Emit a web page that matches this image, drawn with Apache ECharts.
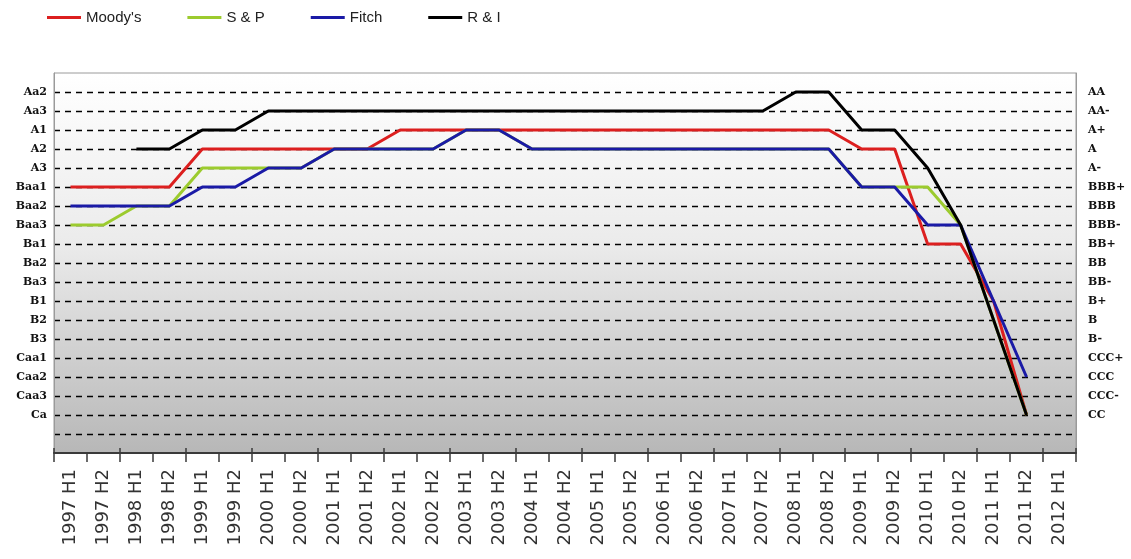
<!DOCTYPE html>
<html>
<head>
<meta charset="utf-8">
<script src="https://cdn.jsdelivr.net/npm/echarts@6/dist/echarts.min.js"></script>
<style>
  html, body { margin: 0; padding: 0; background: #ffffff; }
  #chart { width: 1131px; height: 559px; }
</style>
</head>
<body>
<div id="chart"></div>
<script>
// ---- Data ----
const categories = [
  '1997 H1','1997 H2','1998 H1','1998 H2','1999 H1','1999 H2','2000 H1','2000 H2',
  '2001 H1','2001 H2','2002 H1','2002 H2','2003 H1','2003 H2','2004 H1','2004 H2',
  '2005 H1','2005 H2','2006 H1','2006 H2','2007 H1','2007 H2','2008 H1','2008 H2',
  '2009 H1','2009 H2','2010 H1','2010 H2','2011 H1','2011 H2','2012 H1'
];
// rating level: 19 = Aa2 / AA ... 2 = Ca / CC
const moodys = [14,14,14,14,16,16,16,16,16,16,17,17,17,17,17,17,17,17,17,17,17,17,17,17,16,16,11,11,8,2,null];
const sp     = [12,12,13,13,15,15,15,15,16,16,16,16,17,17,16,16,16,16,16,16,16,16,16,16,14,14,14,12,7,2,null];
const fitch  = [13,13,13,13,14,14,15,15,16,16,16,16,17,17,16,16,16,16,16,16,16,16,16,16,14,14,12,12,8,4,null];
const ri     = [null,null,16,16,17,17,18,18,18,18,18,18,18,18,18,18,18,18,18,18,18,18,19,19,17,17,15,12,7,2,null];

// tick labels, from top level (19) to bottom level (2)
const leftLabels  = ['Aa2','Aa3','A1','A2','A3','Baa1','Baa2','Baa3','Ba1','Ba2','Ba3','B1','B2','B3','Caa1','Caa2','Caa3','Ca'];
const rightLabels = ['AA','AA-','A+','A','A-','BBB+','BBB','BBB-','BB+','BB','BB-','B+','B','B-','CCC+','CCC','CCC-','CC'];
const topLevel = 19;

const seriesNames = ["Moody's", 'S & P', 'Fitch', 'R & I'];
const seriesColors = ['#dc1f1f', '#9ccb2e', '#1a1aa6', '#000000'];

function labelFor(arr) {
  return function (v) {
    const i = topLevel - v;
    return (i >= 0 && i < arr.length) ? arr[i] : '';
  };
}

const chart = echarts.init(document.getElementById('chart'), null, { renderer: 'canvas' });

const gridRect = { left: 54, right: 55, top: 73, bottom: 106 };

const option = {
  animation: false,
  backgroundColor: '#ffffff',
  legend: {
    left: 42,
    top: 5,
    icon: 'rect',
    itemWidth: 34,
    itemHeight: 3,
    itemGap: 46,
    textStyle: { fontFamily: 'Liberation Sans, Arial, sans-serif', fontSize: 15, color: '#222' },
    data: seriesNames
  },
  grid: [
    Object.assign({
      show: true,
      borderColor: '#9a9a9a',
      borderWidth: 1,
      backgroundColor: new echarts.graphic.LinearGradient(0, 0, 0, 1, [
        { offset: 0, color: '#ffffff' },
        { offset: 0.45, color: '#ebebeb' },
        { offset: 1, color: '#b7b7b7' }
      ])
    }, gridRect),
    Object.assign({ show: false }, gridRect)
  ],
  xAxis: [
    {
      type: 'category',
      gridIndex: 0,
      data: categories,
      boundaryGap: true,
      axisLine: { show: true, lineStyle: { color: '#3a3a3a', width: 2 } },
      axisTick: { show: true, length: 9, lineStyle: { color: '#3a3a3a', width: 1.5 } },
      axisLabel: {
        interval: 0,
        rotate: 90,
        margin: 16,
        fontFamily: 'DejaVu Sans, sans-serif',
        fontSize: 18,
        color: '#333'
      },
      splitLine: { show: false }
    },
    {
      type: 'category',
      gridIndex: 1,
      data: categories,
      boundaryGap: true,
      axisLine: { show: false },
      axisTick: { show: true, inside: true, length: 5, lineStyle: { color: '#3a3a3a', width: 1.5 } },
      axisLabel: { show: false },
      splitLine: { show: false }
    }
  ],
  yAxis: [
    {
      type: 'value',
      gridIndex: 0,
      position: 'left',
      min: 0,
      max: 20,
      interval: 1,
      axisLine: { show: true, lineStyle: { color: '#9a9a9a', width: 1 } },
      axisTick: { show: false },
      axisLabel: {
        margin: 7,
        formatter: labelFor(leftLabels),
        fontFamily: 'DejaVu Serif, serif',
        fontWeight: 'bold',
        fontSize: 11,
        color: '#111'
      },
      splitLine: {
        show: true,
        showMinLine: false,
        showMaxLine: false,
        lineStyle: { color: '#000', width: 1.4, type: [6, 5] }
      }
    },
    {
      type: 'value',
      gridIndex: 0,
      position: 'right',
      min: 0,
      max: 20,
      interval: 1,
      axisLine: { show: true, lineStyle: { color: '#9a9a9a', width: 1 } },
      axisTick: { show: false },
      axisLabel: {
        margin: 12,
        formatter: labelFor(rightLabels),
        fontFamily: 'DejaVu Serif, serif',
        fontWeight: 'bold',
        fontSize: 11,
        color: '#111'
      },
      splitLine: { show: false }
    },
    {
      type: 'value',
      gridIndex: 1,
      min: 0,
      max: 20,
      show: false
    }
  ],
  series: [moodys, sp, fitch, ri].map(function (d, k) {
    return {
      name: seriesNames[k],
      type: 'line',
      xAxisIndex: 0,
      yAxisIndex: 0,
      data: d,
      symbol: 'none',
      showSymbol: false,
      connectNulls: false,
      color: seriesColors[k],
      lineStyle: { color: seriesColors[k], width: 3 },
      z: 2 + k
    };
  })
};

chart.setOption(option);
</script>
</body>
</html>
